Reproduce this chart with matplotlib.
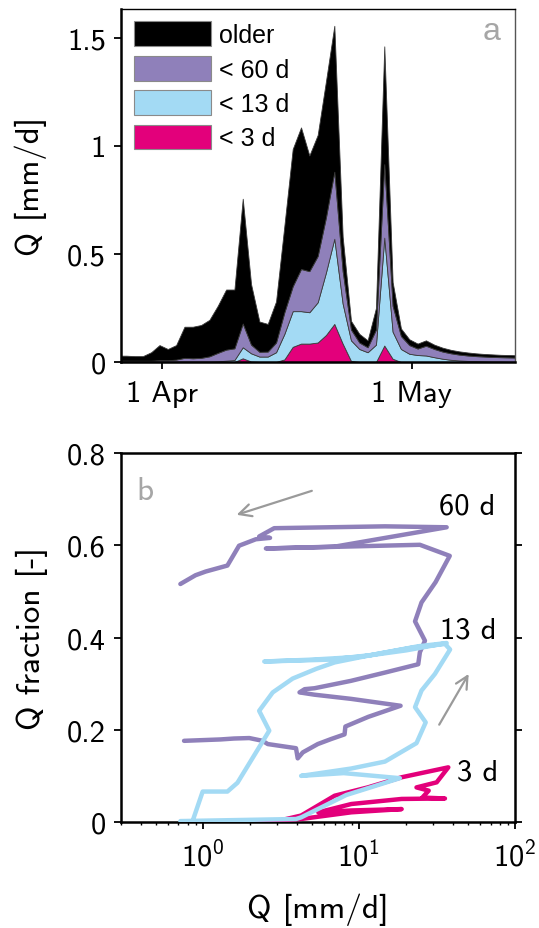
import matplotlib

matplotlib.use("Agg")

import matplotlib.pyplot as plt
import numpy as np

plt.rcParams["font.family"] = "cmss10"
plt.rcParams["mathtext.fontset"] = "custom"
plt.rcParams["mathtext.rm"] = "cmss10"
plt.rcParams["axes.unicode_minus"] = False
plt.rcParams["axes.formatter.use_mathtext"] = True

PURPLE = "#8F80BA"
LBLUE = "#A3DAF4"
PINK = "#E3007B"
GREY = "#A6A6A6"

# ---- panel a: daily discharge split by water age (cumulative tops, mm/d)
day = np.arange(-5, 44) - 0.3  # days since 1 Apr
q_total = [0.029, 0.029, 0.027, 0.027, 0.045, 0.078, 0.06, 0.078, 0.163, 0.163,
           0.171, 0.195, 0.26, 0.335, 0.335, 0.755, 0.36, 0.187, 0.176, 0.28,
           0.63, 0.985, 1.085, 0.955, 1.05, 1.3, 1.555, 0.58, 0.19, 0.13,
           0.1, 0.25, 1.46, 0.37, 0.155, 0.105, 0.085, 0.1, 0.08, 0.066,
           0.056, 0.049, 0.044, 0.04, 0.037, 0.035, 0.033, 0.032, 0.031]
q_lt60 = [0.006, 0.006, 0.006, 0.006, 0.006, 0.008, 0.008, 0.011, 0.019, 0.017,
          0.019, 0.026, 0.042, 0.057, 0.063, 0.178, 0.08, 0.047, 0.048, 0.09,
          0.23, 0.35, 0.43, 0.42, 0.49, 0.67, 0.88, 0.42, 0.15, 0.09,
          0.068, 0.15, 0.915, 0.26, 0.12, 0.078, 0.062, 0.075, 0.06, 0.048,
          0.04, 0.034, 0.03, 0.027, 0.025, 0.023, 0.022, 0.021, 0.02]
q_lt13 = [0.002, 0.002, 0.002, 0.002, 0.002, 0.002, 0.002, 0.002, 0.002, 0.002,
          0.002, 0.002, 0.003, 0.006, 0.009, 0.068, 0.04, 0.025, 0.025, 0.045,
          0.13, 0.235, 0.235, 0.23, 0.276, 0.415, 0.57, 0.27, 0.1, 0.06,
          0.045, 0.08, 0.575, 0.14, 0.06, 0.038, 0.032, 0.03, 0.022, 0.015,
          0.01, 0.007, 0.005, 0.004, 0.003, 0.002, 0.002, 0.001, 0.001]
q_lt3 = [0, 0, 0, 0, 0, 0, 0, 0, 0, 0,
         0, 0, 0, 0, 0, 0.017, 0.002, 0, 0, 0,
         0.012, 0.07, 0.085, 0.085, 0.09, 0.125, 0.176, 0.085, 0.005, 0,
         0, 0, 0.076, 0.015, 0, 0, 0, 0, 0, 0,
         0, 0, 0, 0, 0, 0, 0, 0, 0]
legend_labels = ["older", "< 60 d", "< 13 d", "< 3 d"]

# ---- panel b: discharge vs young-water fraction trajectories
q60 = [0.76, 1.3, 1.59, 1.99, 2.42, 2.61, 3.96, 4.06, 4.38, 5.46, 6.66, 8.1, 8.2,
       11.5, 18.5, 8.9, 5.2, 4.17, 4.5, 5.2, 8.9, 14.7, 24.0, 24.6, 26.5, 22.9,
       25.2, 31.0, 38.2, 24.6, 2.54, 7.0, 36.5, 14.7, 2.87, 2.3, 2.7, 2.19, 1.71,
       1.44, 1.045, 0.9, 0.72]
f60 = [0.176, 0.179, 0.181, 0.182, 0.176, 0.169, 0.16, 0.138, 0.151, 0.169, 0.18,
       0.19, 0.207, 0.228, 0.252, 0.267, 0.276, 0.281, 0.288, 0.29, 0.306, 0.324,
       0.342, 0.368, 0.393, 0.435, 0.476, 0.52, 0.577, 0.601, 0.593, 0.597, 0.639,
       0.641, 0.637, 0.619, 0.616, 0.613, 0.599, 0.556, 0.543, 0.535, 0.516]
q13 = [0.86, 1.0, 1.44, 1.67, 2.67, 2.30, 2.81, 3.77, 5.33, 7.0, 12.0, 24.0, 36.5,
       20.0, 10.0, 5.0, 2.48, 6.5, 12.0, 22.0, 35.6, 38.4, 30.7, 25.2, 22.9, 26.8,
       23.4, 14.7, 8.95, 4.27, 8.0, 18.3, 8.3, 4.27, 3.96, 0.72]
f13 = [0.001, 0.066, 0.066, 0.085, 0.198, 0.241, 0.281, 0.311, 0.332, 0.346, 0.362,
       0.381, 0.388, 0.372, 0.358, 0.352, 0.348, 0.352, 0.362, 0.378, 0.386, 0.374,
       0.321, 0.285, 0.249, 0.216, 0.171, 0.131, 0.116, 0.1, 0.106, 0.095, 0.0585,
       0.01, 0.0065, 0.002]
q3 = [1.2, 3.0, 4.27, 7.0, 11.4, 18.8, 37.4, 31.5, 23.4, 28.0, 25.5, 35.6, 18.8,
      8.95, 5.5, 8.95, 18.8, 8.95, 4.27, 2.5, 0.8]
f3 = [0.0, 0.002, 0.014, 0.057, 0.075, 0.097, 0.1185, 0.086, 0.075, 0.068, 0.053,
      0.051, 0.05, 0.039, 0.021, 0.025, 0.028, 0.021, 0.0065, 0.002, 0.0]


def style_ticks(ax):
    ax.tick_params(direction="out", length=5, width=1.3, labelsize=22)
    ax.tick_params(axis="x", pad=8)
    ax.tick_params(axis="y", pad=6)
    ax.tick_params(which="minor", direction="out", length=2.5, width=1.0)


fig = plt.figure(figsize=(5.39, 9.29), dpi=100)

# panel a
ax_a = fig.add_axes([0.2245, 0.6093, 0.731, 0.38])
base = np.zeros(len(day))
tops = [q_lt3, q_lt13, q_lt60, q_total]
colors = [PINK, LBLUE, PURPLE, "#000000"]
handles = []
for top, col in zip(tops, colors):
    top = np.array(top)
    h = ax_a.fill_between(day, base, top, facecolor=col, edgecolor="#3A3A3A",
                          linewidth=0.6)
    handles.append(h)
    base = top
ax_a.set_xlim(-4.92, 42.4)
ax_a.set_ylim(0, 1.633)
ax_a.set_xticks([0, 30])
ax_a.set_xticklabels(["1 Apr", "1 May"])
ax_a.set_yticks([0, 0.5, 1, 1.5])
ax_a.set_yticklabels(["0", "0.5", "1", "1.5"])
ax_a.set_ylabel("Q [mm/d]", fontsize=23.5)
ax_a.yaxis.set_label_coords(-0.188, 0.5)
style_ticks(ax_a)
for side in ["left", "bottom"]:
    ax_a.spines[side].set_linewidth(1.8)
ax_a.spines["top"].set_linewidth(1.0)
ax_a.spines["right"].set_linewidth(1.0)
ax_a.spines["right"].set_color("#555555")
leg = ax_a.legend(handles[::-1], legend_labels, loc="upper left",
                  bbox_to_anchor=(0.0, 1.0), frameon=False,
                  prop={"family": "Liberation Sans", "size": 18},
                  handlelength=3.1, handleheight=1.15, labelspacing=0.34,
                  handletextpad=0.32, borderaxespad=0.3, borderpad=0.2)
for p in leg.get_patches():
    p.set_edgecolor("#8A8A8A")
    p.set_linewidth(0.8)
ax_a.text(0.962, 0.938, "a", transform=ax_a.transAxes, ha="right", va="center",
          color=GREY, fontsize=23, family="Liberation Sans")

# panel b
ax_b = fig.add_axes([0.2245, 0.1141, 0.731, 0.3972])
lw = 3.2
ax_b.plot(q60, f60, color=PURPLE, lw=lw, solid_capstyle="round",
          solid_joinstyle="round", zorder=3)
ax_b.plot(q3, f3, color=PINK, lw=lw, solid_capstyle="round",
          solid_joinstyle="round", zorder=4)
ax_b.plot(q13, f13, color=LBLUE, lw=lw, solid_capstyle="round",
          solid_joinstyle="round", zorder=5)
ax_b.set_xscale("log")
ax_b.set_xlim(0.3, 100)
ax_b.set_ylim(0, 0.8)
ax_b.set_yticks([0, 0.2, 0.4, 0.6, 0.8])
ax_b.set_yticklabels(["0", "0.2", "0.4", "0.6", "0.8"])
ax_b.set_xlabel("Q [mm/d]", fontsize=24)
ax_b.xaxis.set_label_coords(0.5, -0.19)
ax_b.set_ylabel("Q fraction [-]", fontsize=24)
ax_b.yaxis.set_label_coords(-0.185, 0.5)
style_ticks(ax_b)
ax_b.tick_params(axis="y", right=True)
for side in ax_b.spines:
    ax_b.spines[side].set_linewidth(1.8)

arrow_kw = dict(arrowstyle="->", color="#9A9A9A", lw=1.6, mutation_scale=22,
                shrinkA=0, shrinkB=0)
ax_b.annotate("", xy=(1.65, 0.666), xytext=(5.0, 0.718), arrowprops=arrow_kw)
ax_b.annotate("", xy=(50.5, 0.321), xytext=(32.7, 0.211), arrowprops=arrow_kw)
ax_b.text(32.6, 0.668, "60 d", fontsize=22, va="baseline", ha="left")
ax_b.text(33.2, 0.4, "13 d", fontsize=22, va="baseline", ha="left")
ax_b.text(42.4, 0.093, "3 d", fontsize=22, va="baseline", ha="left")
ax_b.text(0.04, 0.875, "b", transform=ax_b.transAxes, ha="left",
          va="baseline", color=GREY, fontsize=24)

fig.savefig("out.png", dpi=100)
